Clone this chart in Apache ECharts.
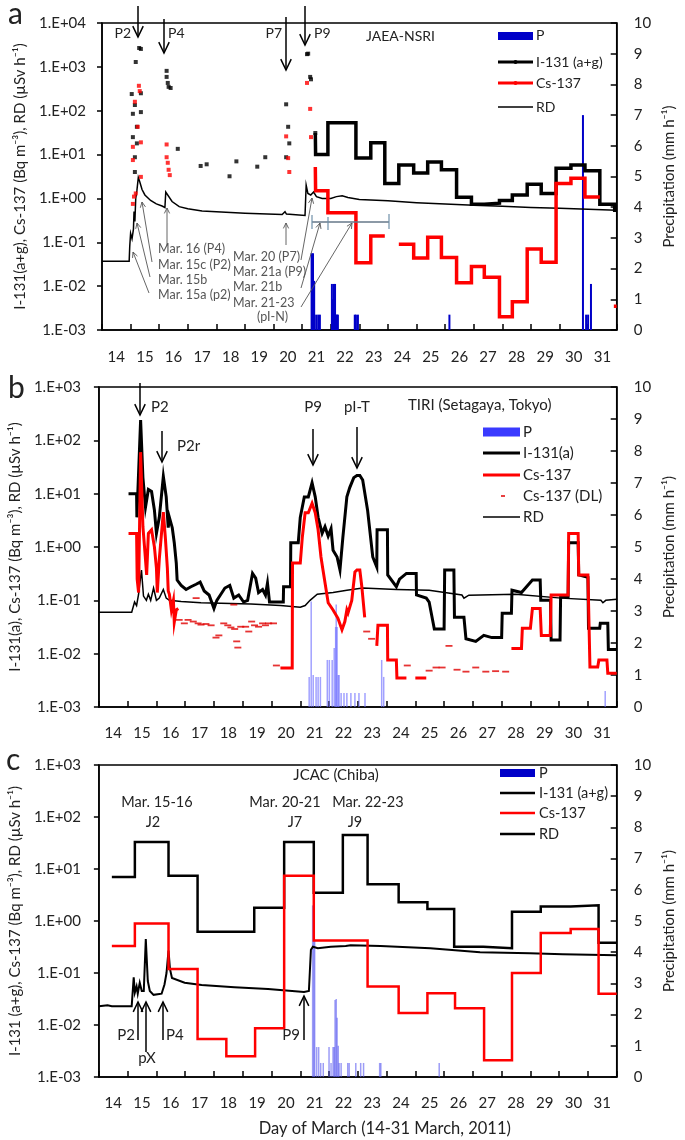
<!DOCTYPE html>
<html>
<head>
<meta charset="utf-8">
<script src="https://cdn.jsdelivr.net/npm/echarts@6/dist/echarts.min.js"></script>
<style>
  html, body { margin: 0; padding: 0; background: #fff; }
  #main { width: 685px; height: 1140px; }
</style>
</head>
<body>
<div id="main"></div>
<script>
// day labels (shown in the middle of each day)
var dayLabels = ['14','15','16','17','18','19','20','21','22','23','24','25','26','27','28','29','30','31'];

// ---------- panel a : JAEA-NSRI ----------
var iA_pts = [[15.30,2690],[15.36,2560],[15.18,1290],[15.04,240],[15.36,250],[15.15,135],[15.08,85],[15.36,93],
  [15.22,43],[15.08,25],[15.22,18],[15.15,8.7],[15.15,4.0],
  [16.26,810],[16.26,590],[16.30,430],[16.33,350],[16.40,330],[16.65,13.5],
  [17.45,5.5],[17.66,6.0],[18.46,3.2],[18.70,7.0],[19.43,5.3],[19.71,8.7],
  [20.44,140],[20.51,43],[20.55,18],[20.44,8.7],
  [21.17,1950],[21.21,2000],[21.28,590],[21.31,520],[21.46,31]];
var csA_pts = [[15.29,370],[15.32,280],[15.15,160],[15.25,43],[15.08,15],[15.36,19],[15.08,7.5],[15.36,3.1],
  [15.18,1.3],[15.08,0.75],[15.12,1.1],
  [16.26,17],[16.26,8.7],[16.30,6.5],[16.33,4.5],[16.37,3.4],
  [20.44,26],[20.51,8.3],[20.55,4.0],
  [21.17,430],[21.28,110],[21.31,25]];
var iA_step = [[21.46,31],[21.47,10],[21.9,53],[22.88,8.3],[23.4,18.5],[23.89,2.2],[24.38,5.8],[24.9,3.8],
  [25.39,6.8],[25.87,4.5],[26.4,1.07],[26.92,0.74],[27.37,0.78],[27.9,0.9],[28.35,1.2],[28.87,2.1],
  [29.36,1.3],[29.88,4.9],[30.4,5.8],[30.89,4.3],[31.41,0.74],[31.93,0.54],[32,0.54]];
var csA_step = [[21.46,5.2],[21.47,1.5],[21.9,0.47],[22.88,0.034],[23.4,0.14],[23.89,0.14],[23.9,'-'],
  [24.38,0.09],[24.9,0.044],[25.39,0.13],[25.87,0.045],[26.4,0.012],[26.92,0.028],[27.37,0.016],
  [27.9,0.002],[28.35,0.0044],[28.87,0.07],[29.36,0.035],[29.88,2.2],[30.4,2.9],[30.89,1.08],[31.41,1.08],
  [31.42,'-'],[31.9,0.0035],[32,0.0035]];
var rdA = [[14,0.037],[14.95,0.037],[14.97,0.08],[15.0,0.16],[15.05,0.12],[15.1,0.2],[15.12,0.5],[15.15,0.3],
  [15.18,1.0],[15.22,1.5],[15.27,3.0],[15.32,2.4],[15.4,1.6],[15.5,1.2],[15.7,0.9],[15.9,0.75],[16.1,0.67],
  [16.2,0.62],[16.23,1.4],[16.28,1.3],[16.45,0.85],[16.7,0.65],[17.0,0.58],[17.5,0.52],[18.0,0.5],[19.0,0.46],
  [20.3,0.43],[20.4,0.5],[20.45,0.44],[21.1,0.41],[21.14,2.0],[21.2,1.3],[21.3,1.2],[21.4,1.4],[21.5,1.1],
  [21.7,1.0],[22.0,1.0],[22.2,1.1],[22.4,1.15],[22.6,1.05],[23.0,0.95],[24.0,0.88],[25.0,0.8],[26.0,0.75],
  [27.0,0.7],[28.0,0.66],[29.0,0.62],[30.0,0.6],[31.0,0.57],[32.0,0.54]];
var pA = [[21.33,2.5],[21.38,2.5],[21.42,1.6],[21.49,0.5],[21.56,0.5],[21.62,0.5],[22.04,1.5],[22.08,1.0],
  [22.11,1.5],[22.15,1.5],[22.18,0.5],[22.22,0.5],[22.25,0.5],[22.84,0.5],[22.88,0.5],[22.95,0.5],
  [26.15,0.5],[30.82,7.0],[30.93,0.5],[31.0,0.5],[31.1,1.5]];

// ---------- panel b : TIRI (Setagaya, Tokyo) ----------
var iB = [[15.03,10],[15.31,10],[15.32,3.6],[15.37,3.6],[15.45,240],[15.53,20],[15.62,5.6],[15.72,12],
  [15.83,11],[15.93,4.9],[16.0,1.8],[16.1,3.6],[16.24,21],[16.34,8.7],[16.41,2.3],[16.45,3.6],[16.55,2.3],
  [16.62,1.2],[16.69,0.5],[16.72,0.24],[16.86,0.19],[17.03,0.16],[17.2,0.18],[17.38,0.2],[17.52,0.22],
  [17.66,0.15],[17.83,0.126],[18.0,0.07],[18.1,0.1],[18.24,0.13],[18.38,0.17],[18.55,0.19],[18.69,0.11],
  [18.86,0.126],[19.03,0.093],[19.17,0.1],[19.34,0.32],[19.45,0.26],[19.55,0.14],[19.69,0.16],[19.79,0.126],
  [19.86,0.21],[19.93,0.093],[20.41,0.093],[20.42,0.18],[20.66,0.18],[20.67,1.2],[20.93,1.2],[21.0,3.6],
  [21.14,8.7],[21.28,8.7],[21.41,16],[21.52,8.7],[21.62,3.6],[21.76,1.8],[21.86,2.4],[21.97,1.6],[22.07,2.2],
  [22.14,0.87],[22.28,0.65],[22.38,0.37],[22.48,1.5],[22.62,8.7],[22.72,13],[22.86,20],[22.97,22],[23.07,22],
  [23.17,18],[23.34,4.9],[23.52,0.65],[23.66,0.42],[23.67,2.1],[24.03,2.1],[24.04,0.3],[24.34,0.18],
  [24.45,0.25],[24.69,0.32],[25.03,0.32],[25.04,0.126],[25.38,0.11],[25.48,0.093],[25.66,0.029],[26.0,0.029],
  [26.02,0.37],[26.34,0.37],[26.36,0.048],[26.69,0.048],[26.76,0.019],[27.1,0.017],[27.38,0.022],[27.66,0.02],
  [28.0,0.02],[28.02,0.057],[28.34,0.057],[28.36,0.155],[28.69,0.14],[29.07,0.24],[29.34,0.24],[29.36,0.1],
  [29.7,0.1],[29.72,0.018],[30.03,0.018],[30.05,0.115],[30.31,0.115],[30.33,1.2],[30.66,1.2],[30.68,0.3],
  [31.0,0.27],[31.02,0.03],[31.41,0.03],[31.43,0.037],[31.69,0.037],[31.71,0.012],[32,0.012]];
var csB = [[15.03,1.8],[15.31,1.8],[15.33,0.25],[15.38,0.14],[15.45,60],[15.53,2.4],[15.6,0.8],[15.66,0.3],
  [15.72,1.8],[15.83,2.1],[15.93,1.0],[16.0,0.4],[16.03,0.14],[16.1,0.6],[16.24,4.5],[16.31,1.5],[16.38,0.4],
  [16.41,0.15],[16.45,0.13],[16.52,0.066],[16.59,0.1],[16.62,0.039],[16.69,0.066],[16.76,0.07],[16.77,'-'],
  [20.31,0.0054],[20.72,0.0054],[20.73,0.5],[21.0,0.5],[21.07,1.5],[21.17,4.4],[21.28,4.4],[21.41,6.6],
  [21.52,4.4],[21.62,2.1],[21.72,0.65],[21.79,0.37],[21.97,0.09],[22.14,0.066],[22.31,0.046],[22.45,0.028],
  [22.55,0.04],[22.62,0.066],[22.66,0.058],[22.79,0.1],[22.9,0.34],[22.97,0.37],[23.07,0.37],[23.14,0.18],
  [23.24,0.048],[23.25,'-'],[23.66,0.014],[23.7,0.034],[24.03,0.034],[24.04,0.0076],[24.34,0.0076],
  [24.36,0.0035],[24.69,0.0035],[24.7,'-'],[25.0,0.0035],[25.38,0.0035],[25.39,'-'],
  [28.34,0.0125],[28.69,0.0125],[28.72,0.03],[29.0,0.03],[29.07,0.07],[29.34,0.07],[29.38,0.022],[29.69,0.022],
  [29.72,0.126],[30.31,0.126],[30.33,1.8],[30.66,1.8],[30.68,0.3],[31.0,0.3],[31.07,0.0056],[31.34,0.0056],
  [31.38,0.0076],[31.66,0.0076],[31.69,0.0043],[32,0.0043]];
var dlB = [[16.79,0.043],[16.97,0.037],[17.1,0.043],[17.28,0.04],[17.38,0.11],[17.45,0.037],[17.55,0.035],
  [17.72,0.036],[17.9,0.034],[18.07,0.02],[18.17,0.022],[18.34,0.037],[18.48,0.034],[18.59,0.031],[18.72,0.029],
  [18.69,0.083],[18.79,0.017],[18.83,0.013],[18.93,0.032],[19.1,0.032],[19.21,0.026],[19.31,0.04],[19.41,0.034],
  [19.55,0.032],[19.69,0.037],[19.79,0.034],[19.9,0.037],[20.07,0.037],[20.17,0.006],[23.31,0.026],[23.48,0.019],
  [24.72,0.006],[25.48,0.0048],[25.72,0.0055],[25.93,0.0055],[26.17,0.014],[26.45,0.005],[26.76,0.0046],
  [27.1,0.0055],[27.45,0.0046],[27.79,0.0047],[28.14,0.0046]];
var rdB = [[14,0.06],[15.14,0.06],[15.24,0.093],[15.31,0.08],[15.38,0.13],[15.48,0.37],[15.55,0.12],[15.65,0.1],
  [15.72,0.13],[15.8,0.1],[15.9,0.17],[16.0,0.1],[16.1,0.11],[16.24,0.16],[16.34,0.11],[16.45,0.1],[16.86,0.095],
  [17.55,0.09],[19.28,0.085],[20.31,0.08],[21.0,0.074],[21.17,0.08],[21.34,0.1],[21.59,0.13],[22.14,0.14],
  [22.62,0.155],[23.17,0.17],[24.34,0.16],[25.48,0.155],[26.62,0.126],[26.69,0.11],[26.86,0.125],[28.48,0.13],
  [30.07,0.11],[31.45,0.1],[31.52,0.09],[31.62,0.1],[32,0.105]];
var pB = [[21.31,0.94],[21.38,3.3],[21.45,1.0],[21.55,0.94],[21.62,0.94],[21.7,0.94],[21.94,1.47],[22.01,1.47],
  [22.11,1.47],[22.18,1.84],[22.23,2.5],[22.25,3.2],[22.28,2.5],[22.32,1.0],[22.35,1.0],[22.42,0.44],
  [22.52,0.44],[22.62,0.44],[22.76,0.44],[22.9,0.44],[23.04,0.44],[23.25,0.44],[23.83,1.47],[23.9,0.94],
  [31.6,0.5]];

// ---------- panel c : JCAC (Chiba) ----------
var iC = [[14.45,7],[15.25,33],[16.42,7.4],[17.43,0.62],[19.4,1.8],[20.44,33],[21.47,3.5],[22.48,45],
  [23.34,5.1],[24.42,2.3],[25.42,1.7],[26.35,0.32],[27.36,0.3],[28.36,1.5],[29.36,1.9],[30.4,2.0],
  [31.37,0.38],[32,0.38]];
var csC = [[14.45,0.33],[15.25,0.9],[16.42,0.12],[17.43,0.0054],[18.43,0.0025],[19.43,0.0087],[20.44,7.4],
  [21.47,0.42],[23.34,0.055],[24.42,0.017],[25.42,0.041],[26.38,0.021],[27.39,0.0021],[28.36,0.1],
  [29.36,0.59],[30.4,0.7],[31.37,0.04],[32,0.04]];
var rdC = [[14,0.023],[14.3,0.024],[14.45,0.023],[15.14,0.023],[15.21,0.083],[15.25,0.042],[15.31,0.055],
  [15.35,0.04],[15.42,0.065],[15.49,0.045],[15.56,0.045],[15.63,0.45],[15.7,0.07],[15.77,0.045],[15.9,0.038],
  [16.18,0.04],[16.28,0.06],[16.35,0.1],[16.42,0.27],[16.47,0.12],[16.54,0.08],[16.6,0.074],[16.98,0.065],
  [17.57,0.059],[18.71,0.053],[19.88,0.049],[21.13,0.043],[21.3,0.045],[21.37,0.28],[21.44,0.32],[21.61,0.3],
  [22.06,0.32],[22.58,0.33],[22.75,0.34],[23.79,0.33],[25.52,0.3],[27.25,0.25],[28.98,0.24],[30.12,0.23],
  [32,0.22]];
var pC = [[21.43,5.5],[21.47,4.4],[21.5,4.4],[21.57,0.96],[21.64,0.96],[21.71,0.45],[21.8,0.45],[22.0,0.96],
  [22.07,0.45],[22.14,0.96],[22.18,0.96],[22.21,2.47],[22.25,2.5],[22.28,1.9],[22.32,1.0],[22.35,0.45],
  [22.42,0.45],[22.65,0.45],[22.7,0.45],[22.93,0.45],[23.1,0.45],[23.2,0.45],[23.76,0.45],[23.8,0.45],
  [25.83,0.45]];

var FONT = 'Lato, "Open Sans", sans-serif';
var TXT = '#222';

function sci(v) {
  var e = Math.round(Math.log10(v));
  var a = Math.abs(e);
  return '1.E' + (e < 0 ? '-' : '+') + (a < 10 ? '0' : '') + a;
}

var grids = [
  { left: 102, top: 23, width: 517, height: 307 },
  { left: 97, top: 387, width: 522, height: 320 },
  { left: 97, top: 765, width: 520, height: 312 }
];
var leftNames = [
  'I-131(a+g), Cs-137 (Bq m\u207B\u00B3), RD (\u00B5Sv h\u207B\u00B9)',
  'I-131(a), Cs-137 (Bq m\u207B\u00B3), RD (\u00B5Sv h\u207B\u00B9)',
  'I-131 (a+g), Cs-137 (Bq m\u207B\u00B3), RD (\u00B5Sv h\u207B\u00B9)'
];
var leftGap = [63, 69, 66];
var rightGap = [23, 33, 26];
var xLabelMargin = [20, 19, 19];

var xAxes = [], yAxes = [];
grids.forEach(function (g, p) {
  g.show = true;
  g.borderColor = '#000';
  g.borderWidth = 1.5;
  xAxes.push({
    type: 'value', gridIndex: p, min: 14, max: 32, interval: 1,
    axisLine: { lineStyle: { color: '#000', width: 1.5 } },
    axisTick: { inside: true, length: 6, lineStyle: { color: '#000', width: 1.5 } },
    axisLabel: { show: false }, splitLine: { show: false }
  });
  xAxes.push({
    type: 'category', gridIndex: p, data: dayLabels, position: 'bottom', boundaryGap: true,
    axisLine: { show: false }, axisTick: { show: false },
    axisLabel: { interval: 0, margin: xLabelMargin[p], fontSize: 15, color: TXT, fontFamily: FONT },
    name: p === 2 ? 'Day of March (14-31 March, 2011)' : '',
    nameLocation: 'middle', nameGap: 43,
    nameTextStyle: { fontSize: 16.5, color: TXT, fontFamily: FONT, padding: [0, 0, 0, 54] }
  });
  yAxes.push({
    type: 'log', gridIndex: p, logBase: 10, min: 0.001, max: p === 0 ? 10000 : 1000,
    splitNumber: p === 0 ? 7 : 6, position: 'left',
    axisLine: { show: true, lineStyle: { color: '#000', width: 1.5 } },
    axisTick: { show: true, inside: false, length: 5, lineStyle: { color: '#000', width: 1.5 } },
    minorTick: { show: false }, splitLine: { show: false },
    axisLabel: { formatter: sci, margin: p === 0 ? 16 : 18, fontSize: 15, color: TXT, fontFamily: FONT },
    name: leftNames[p], nameLocation: 'middle', nameGap: leftGap[p],
    nameTextStyle: { fontSize: 15, color: TXT, fontFamily: FONT }
  });
  yAxes.push({
    type: 'value', gridIndex: p, min: 0, max: 10, interval: 1, position: 'right',
    axisLine: { show: true, lineStyle: { color: '#000', width: 1.5 } },
    axisTick: { inside: true, length: 6, lineStyle: { color: '#000', width: 1.5 } },
    splitLine: { show: false },
    axisLabel: { margin: 17, fontSize: 15, color: TXT, fontFamily: FONT },
    name: 'Precipitation (mm h\u207B\u00B9)', nameLocation: 'middle', nameGap: rightGap[p],
    nameTextStyle: { fontSize: 15, color: TXT, fontFamily: FONT }
  });
});

function line(p, data, color, width, step, z) {
  return {
    type: 'line', xAxisIndex: 2 * p, yAxisIndex: 2 * p, data: data, step: step ? 'end' : false,
    symbol: 'none', connectNulls: false, animation: false, z: z || 3,
    lineStyle: { color: color, width: width, join: 'miter' }
  };
}
function bars(p, data, color, w) {
  return {
    type: 'bar', xAxisIndex: 2 * p, yAxisIndex: 2 * p + 1, data: data, barWidth: w,
    barGap: '-100%', animation: false, z: 1, itemStyle: { color: color }
  };
}
function pts(p, data, color, size) {
  return {
    type: 'scatter', xAxisIndex: 2 * p, yAxisIndex: 2 * p, data: data, symbol: 'rect',
    symbolSize: size, animation: false, z: 4, itemStyle: { color: color }
  };
}

var series = [
  bars(0, pA, '#0000c8', 2),
  line(0, rdA, '#000', 1.5, false, 3),
  line(0, iA_step, '#000', 3.5, true, 3),
  line(0, csA_step, '#ff0000', 3.5, true, 4),
  pts(0, iA_pts, '#000', 4),
  pts(0, csA_pts, '#ff0000', 4),

  bars(1, pB, 'rgba(110,110,255,0.65)', 1.5),
  line(1, rdB, '#000', 1.5, false, 3),
  line(1, iB, '#000', 3, false, 3),
  line(1, csB, '#ff0000', 3, false, 4),
  {
    type: 'scatter', xAxisIndex: 2, yAxisIndex: 2, data: dlB, symbol: 'rect', symbolSize: [7, 1.8],
    animation: false, z: 4, itemStyle: { color: '#e00000' }
  },

  bars(2, pC, 'rgba(90,90,240,0.6)', 1.5),
  line(2, rdC, '#000', 2, false, 3),
  line(2, iC, '#000', 2.5, true, 3),
  line(2, csC, '#ff0000', 2.5, true, 4)
];

// ---------- annotations (pixel positions) ----------
var G = [];
function txt(x, y, s, size, align, color) {
  G.push({
    type: 'text', x: x, y: y, z: 100, silent: true,
    style: {
      text: s, font: size + 'px ' + FONT, fill: color || TXT,
      align: align || 'left', verticalAlign: 'middle', textAlign: align || 'left', textVerticalAlign: 'middle'
    }
  });
}
function seg(x1, y1, x2, y2, color, w) {
  G.push({ type: 'line', z: 100, silent: true, shape: { x1: x1, y1: y1, x2: x2, y2: y2 },
    style: { stroke: color, lineWidth: w } });
}
function arrow(x1, y1, x2, y2, color, w, head) {
  seg(x1, y1, x2, y2, color, w);
  var a = Math.atan2(y2 - y1, x2 - x1), s = 0.45;
  G.push({ type: 'polyline', z: 100, silent: true,
    shape: { points: [
      [x2 - head * Math.cos(a - s), y2 - head * Math.sin(a - s)],
      [x2, y2],
      [x2 - head * Math.cos(a + s), y2 - head * Math.sin(a + s)]] },
    style: { stroke: color, lineWidth: w, fill: null } });
}
function legendLine(x, y, w, color, lw, dot) {
  seg(x, y, x + w, y, color, lw);
  if (dot) G.push({ type: 'circle', z: 100, silent: true, shape: { cx: x + w / 2, cy: y, r: 2 }, style: { fill: color } });
}
function legendRect(x, y, w, h, color) {
  G.push({ type: 'rect', z: 100, silent: true, shape: { x: x, y: y - h / 2, width: w, height: h }, style: { fill: color } });
}

// panel letters
txt(8, 14, 'a', 30); txt(8, 388, 'b', 30); txt(6, 760, 'c', 30);

// panel a
arrow(138, 6, 138, 37, '#000', 1.5, 12);
arrow(164, 19, 164, 53, '#000', 1.5, 12);
arrow(286, 17, 286, 70, '#000', 1.5, 12);
arrow(305, 6, 305, 45, '#000', 1.5, 12);
txt(131, 33, 'P2', 14, 'right'); txt(168, 33, 'P4', 14); txt(282, 33, 'P7', 14, 'right'); txt(314, 33, 'P9', 14);
txt(366, 36, 'JAEA-NSRI', 14);
var gray = '#555';
arrow(167, 245, 167, 208, gray, 0.9, 6);
arrow(152, 262, 142, 202, gray, 0.9, 6);
arrow(150, 277, 137, 223, gray, 0.9, 6);
arrow(149, 293, 133, 252, gray, 0.9, 6);
arrow(286, 245, 286, 223, gray, 0.9, 6);
arrow(301, 260, 312, 198, gray, 0.9, 6);
arrow(301, 288, 320, 223, gray, 0.9, 6);
arrow(301, 307, 352, 223, gray, 0.9, 6);
txt(158, 249, 'Mar. 16 (P4)', 12.5, 'left', gray);
txt(158, 265, 'Mar. 15c (P2)', 12.5, 'left', gray);
txt(158, 280, 'Mar. 15b', 12.5, 'left', gray);
txt(158, 295, 'Mar. 15a (p2)', 12.5, 'left', gray);
txt(233, 257, 'Mar. 20 (P7)', 12.5, 'left', gray);
txt(233, 272, 'Mar. 21a (P9)', 12.5, 'left', gray);
txt(233, 287, 'Mar. 21b', 12.5, 'left', gray);
txt(233, 303, 'Mar. 21-23', 12.5, 'left', gray);
txt(257, 317, '(pI-N)', 12.5, 'left', gray);
seg(312, 222, 389, 222, '#667788', 1.5);
seg(312, 215, 312, 229, '#6f8fa8', 1.2);
seg(328, 217, 328, 230, '#6f8fa8', 1.2);
seg(389, 214, 389, 229, '#6f8fa8', 1.2);
legendRect(498, 36, 35, 8, '#0000c8'); txt(536, 35, 'P', 14);
legendLine(498, 62, 35, '#000', 3, true); txt(536, 62, 'I-131 (a+g)', 14);
legendLine(498, 83, 35, '#ff0000', 3, true); txt(536, 83, 'Cs-137', 14);
legendLine(498, 107, 35, '#000', 1.5); txt(536, 107, 'RD', 14);

// panel b
arrow(140, 383, 140, 415, '#000', 1.5, 12);
arrow(162, 431, 162, 462, '#000', 1.5, 12);
arrow(313, 429, 313, 465, '#000', 1.5, 12);
arrow(357, 427, 357, 468, '#000', 1.5, 12);
txt(151, 407, 'P2', 15); txt(177, 446, 'P2r', 15);
txt(313, 407, 'P9', 15, 'center'); txt(357, 407, 'pI-T', 15, 'center');
txt(408, 405, 'TIRI (Setagaya, Tokyo)', 15);
legendRect(483, 432, 37, 9, '#3a3aff'); txt(523, 432, 'P', 15);
legendLine(483, 453, 37, '#000', 3); txt(523, 453, 'I-131(a)', 15);
legendLine(483, 475, 37, '#ff0000', 3); txt(523, 475, 'Cs-137', 15);
legendLine(501, 496, 4, '#e00000', 1.5); txt(523, 496, 'Cs-137 (DL)', 15);
legendLine(483, 517, 37, '#000', 1.5); txt(523, 517, 'RD', 15);

// panel c
txt(336, 775, 'JCAC (Chiba)', 15, 'center');
txt(157, 802, 'Mar. 15-16', 14.5, 'center'); txt(153, 822, 'J2', 14.5, 'center');
txt(285, 802, 'Mar. 20-21', 14.5, 'center'); txt(295, 822, 'J7', 14.5, 'center');
txt(368, 802, 'Mar. 22-23', 14.5, 'center'); txt(355, 822, 'J9', 14.5, 'center');
arrow(138, 1040, 138, 1002, '#000', 1.5, 11);
arrow(146, 1052, 146, 1002, '#000', 1.5, 11);
arrow(163, 1040, 163, 1002, '#000', 1.5, 11);
arrow(304, 1040, 304, 996, '#000', 1.5, 11);
txt(135, 1035, 'P2', 15, 'right'); txt(147, 1058, 'pX', 15, 'center');
txt(166, 1035, 'P4', 15); txt(300, 1035, 'P9', 15, 'right');
legendRect(500, 773, 35, 8, '#0000c8'); txt(539, 773, 'P', 14.5);
legendLine(500, 793, 35, '#000', 2.5); txt(539, 793, 'I-131 (a+g)', 14.5);
legendLine(500, 813, 35, '#ff0000', 2.5); txt(539, 813, 'Cs-137', 14.5);
legendLine(500, 834, 35, '#000', 2.5); txt(539, 834, 'RD', 14.5);

var chart = echarts.init(document.getElementById('main'), null, { renderer: 'canvas' });
chart.setOption({
  backgroundColor: '#fff',
  animation: false,
  textStyle: { fontFamily: FONT },
  grid: grids,
  xAxis: xAxes,
  yAxis: yAxes,
  series: series,
  graphic: { elements: G }
});
</script>
</body>
</html>
